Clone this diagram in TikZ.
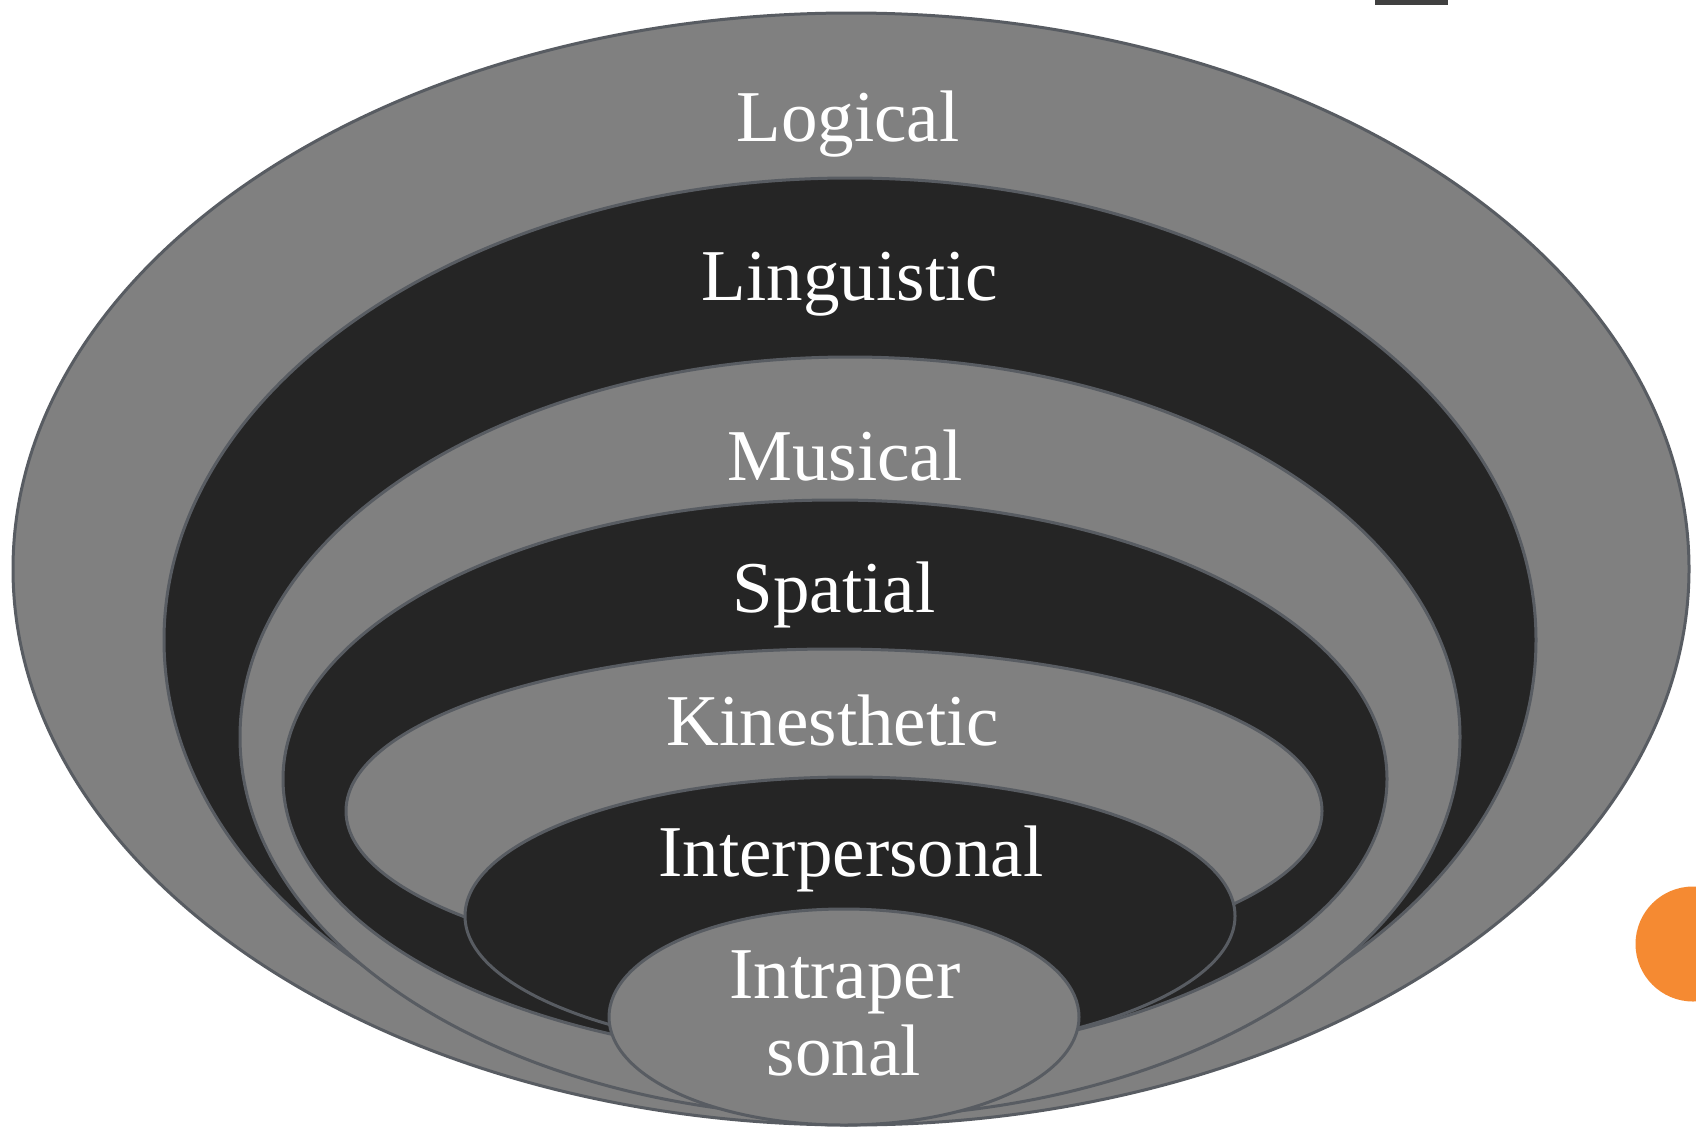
\documentclass[tikz,border=0pt]{standalone}
\usepackage{fontspec}
\setmainfont{Liberation Serif}
\definecolor{bandgrey}{RGB}{128,128,128}
\definecolor{bandblack}{RGB}{37,37,37}
\definecolor{edgegrey}{RGB}{88,92,98}
\definecolor{dotorange}{RGB}{245,138,50}
\begin{document}
\begin{tikzpicture}[x=1pt,y=-1pt,
  ring/.style={draw=edgegrey, line width=3pt},
  lightring/.style={ring, fill=bandgrey},
  darkring/.style={ring, fill=bandblack},
  lbl/.style={text=white, font=\fontsize{73}{77}\selectfont, anchor=base, inner sep=0pt}]
\useasboundingbox (0,0) rectangle (1696,1127);
\clip (0,0) rectangle (1696,1127);
\fill[white] (0,0) rectangle (1696,1127);
% small cut-off strip at the top
\fill[black!75] (1375,0) rectangle (1448,5);
% nested ellipses, outermost first
\draw[lightring] (851,569) ellipse [x radius=838pt, y radius=556pt];
\draw[darkring]  (850,640) ellipse [x radius=686pt, y radius=462pt];
\draw[lightring] (850,737) ellipse [x radius=610pt, y radius=380pt];
\draw[darkring]  (835,779) ellipse [x radius=552pt, y radius=279pt];
\draw[lightring] (834,811) ellipse [x radius=488pt, y radius=162pt];
\draw[darkring]  (850,916) ellipse [x radius=385pt, y radius=139pt];
\draw[lightring] (844,1017) ellipse [x radius=235pt, y radius=108pt];
% labels
\node[lbl] (logical)  at (848,141) {Logical};
\node[lbl] (linguistic) at (850,300) {Linguistic};
\node[lbl] (musical)  at (845,480) {Musical};
\node[lbl] (spatial)  at (834,612) {Spatial};
\node[lbl] (kines)    at (833,745) {Kinesthetic};
\node[lbl] (inter)    at (851,876) {Interpersonal};
\node[lbl] (intraA)   at (845,998) {Intraper};
\node[lbl] (intraB)   at (844,1075) {sonal};
% orange dot at the right edge
\fill[dotorange] (1693,944) circle [radius=57.5pt];
\end{tikzpicture}
\end{document}
